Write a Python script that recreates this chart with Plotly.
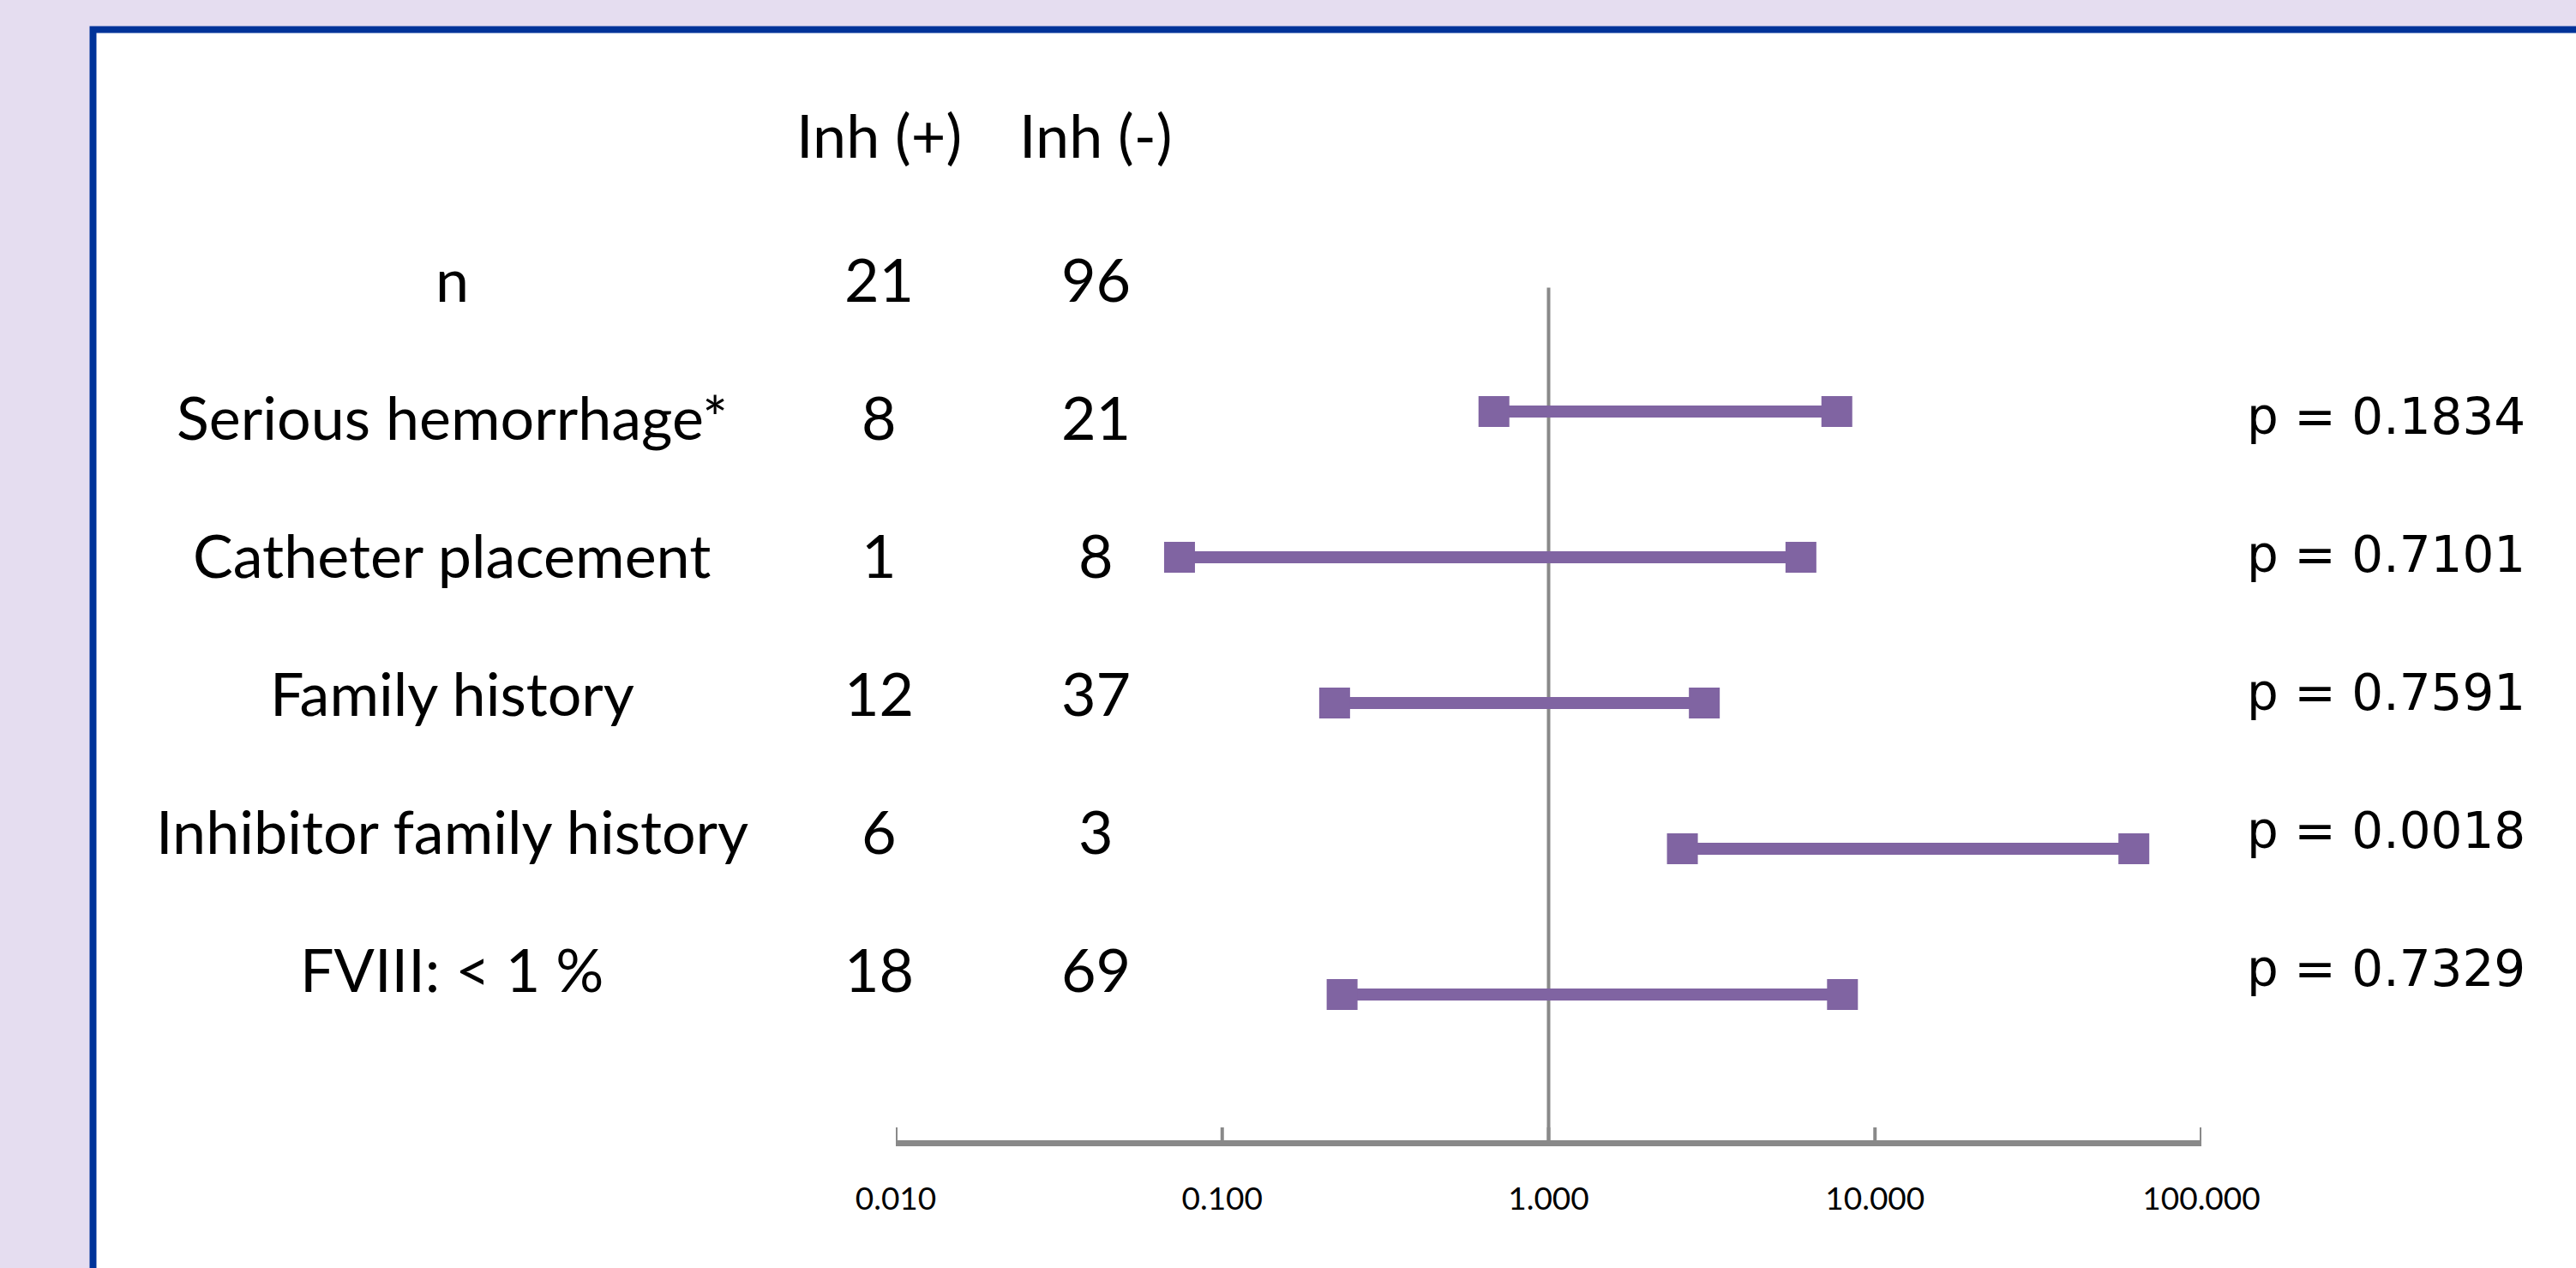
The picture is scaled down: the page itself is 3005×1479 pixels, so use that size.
import plotly.graph_objects as go

# ---------------- data ----------------
factors = ["Serious hemorrhage*", "Catheter placement", "Family history",
           "Inhibitor family history", "FVIII: < 1 %"]
inh_pos = [8, 1, 12, 6, 18]
inh_neg = [21, 8, 37, 3, 69]
n_pos = 21
n_neg = 96
ci_low = [0.68, 0.074, 0.221, 2.57, 0.233]
ci_high = [7.64, 5.93, 3.0, 62.1, 7.95]
p_values = ["p = 0.1834", "p = 0.7101", "p = 0.7591", "p = 0.0018", "p = 0.7329"]
row_pos = [5, 4, 3, 2, 1]
tick_vals = [0.01, 0.1, 1, 10, 100]
tick_text = ["0.010", "0.100", "1.000", "10.000", "100.000"]
ref_value = 1
ref_top = 5.85

# ---------------- layout geometry (pixels) ----------------
W, H = 3005, 1479
L, R = 1045, 2568          # plot area left/right
T, B = 225, 1330           # plot area top/bottom
PURPLE = "#8064A2"
GRAY = "#898989"

def px(xp):
    return (xp - L) / (R - L)

def py(yp):
    return (B - yp) / (B - T)

fig = go.Figure()

# reference line at 1
fig.add_trace(go.Scatter(x=[ref_value, ref_value], y=[0, ref_top], mode="lines",
                         line=dict(color=GRAY, width=4), hoverinfo="skip",
                         showlegend=False, cliponaxis=False))

# CI bars
for lo, hi, yv in zip(ci_low, ci_high, row_pos):
    fig.add_trace(go.Scatter(x=[lo, hi], y=[yv, yv], mode="lines+markers",
                             line=dict(color=PURPLE, width=14),
                             marker=dict(symbol="square", size=36, color=PURPLE,
                                         line=dict(width=0)),
                             showlegend=False, cliponaxis=False))

LABEL_FONT = dict(family="Lato, Carlito, sans-serif", size=70, color="black")
P_FONT = dict(family="DejaVu Sans, Verdana, sans-serif", size=58, color="black")

ann = []
# headers
ann.append(dict(x=px(1025), y=py(157), text="Inh (+)", font=LABEL_FONT))
ann.append(dict(x=px(1278), y=py(157), text="Inh (-)", font=LABEL_FONT))
# n row
ann.append(dict(x=px(527), y=py(325), text="n", font=LABEL_FONT))
ann.append(dict(x=px(1025), y=py(325), text=str(n_pos), font=LABEL_FONT))
ann.append(dict(x=px(1278), y=py(325), text=str(n_neg), font=LABEL_FONT))

text_rows = [486, 647, 808, 969, 1130]
for name, a, b, p, yp in zip(factors, inh_pos, inh_neg, p_values, text_rows):
    ann.append(dict(x=px(527), y=py(yp), text=name, font=LABEL_FONT))
    ann.append(dict(x=px(1025), y=py(yp), text=str(a), font=LABEL_FONT))
    ann.append(dict(x=px(1278), y=py(yp), text=str(b), font=LABEL_FONT))
    ann.append(dict(x=px(2948), y=py(yp), text=p, font=P_FONT, xanchor="right"))

for a in ann:
    a.setdefault("xanchor", "center")
    a.update(xref="paper", yref="paper", yanchor="middle", showarrow=False)

# white panel with blue frame
shapes = [dict(type="rect", xref="paper", yref="paper",
               x0=px(108.5), x1=px(3200), y0=py(1700), y1=py(34.5),
               line=dict(color="#003399", width=8), fillcolor="white",
               layer="below")]

# upward tick marks at the major ticks
for tv in tick_vals:
    shapes.append(dict(type="line", xref="x", yref="y", x0=tv, x1=tv,
                       ysizemode="pixel", yanchor=0, y0=-2, y1=15,
                       line=dict(color=GRAY, width=4), layer="above"))

fig.update_layout(
    width=W, height=H,
    margin=dict(l=L, r=W - R, t=T, b=H - B, pad=0),
    paper_bgcolor="#E5DDF0",
    plot_bgcolor="white",
    annotations=ann,
    shapes=shapes,
    showlegend=False,
    xaxis=dict(type="log", range=[-2, 2], tickvals=tick_vals, ticktext=tick_text,
               showgrid=False, zeroline=False, showline=True, linecolor=GRAY,
               linewidth=7, ticks="",
               tickfont=dict(family="Lato, Carlito, sans-serif", size=37, color="black"),
               ticklabelstandoff=30),
    yaxis=dict(range=[0, 6.5], visible=False, showgrid=False, zeroline=False),
)

fig.write_html("out.html", config={"displayModeBar": False},
               post_script="document.body.style.margin='0';")
